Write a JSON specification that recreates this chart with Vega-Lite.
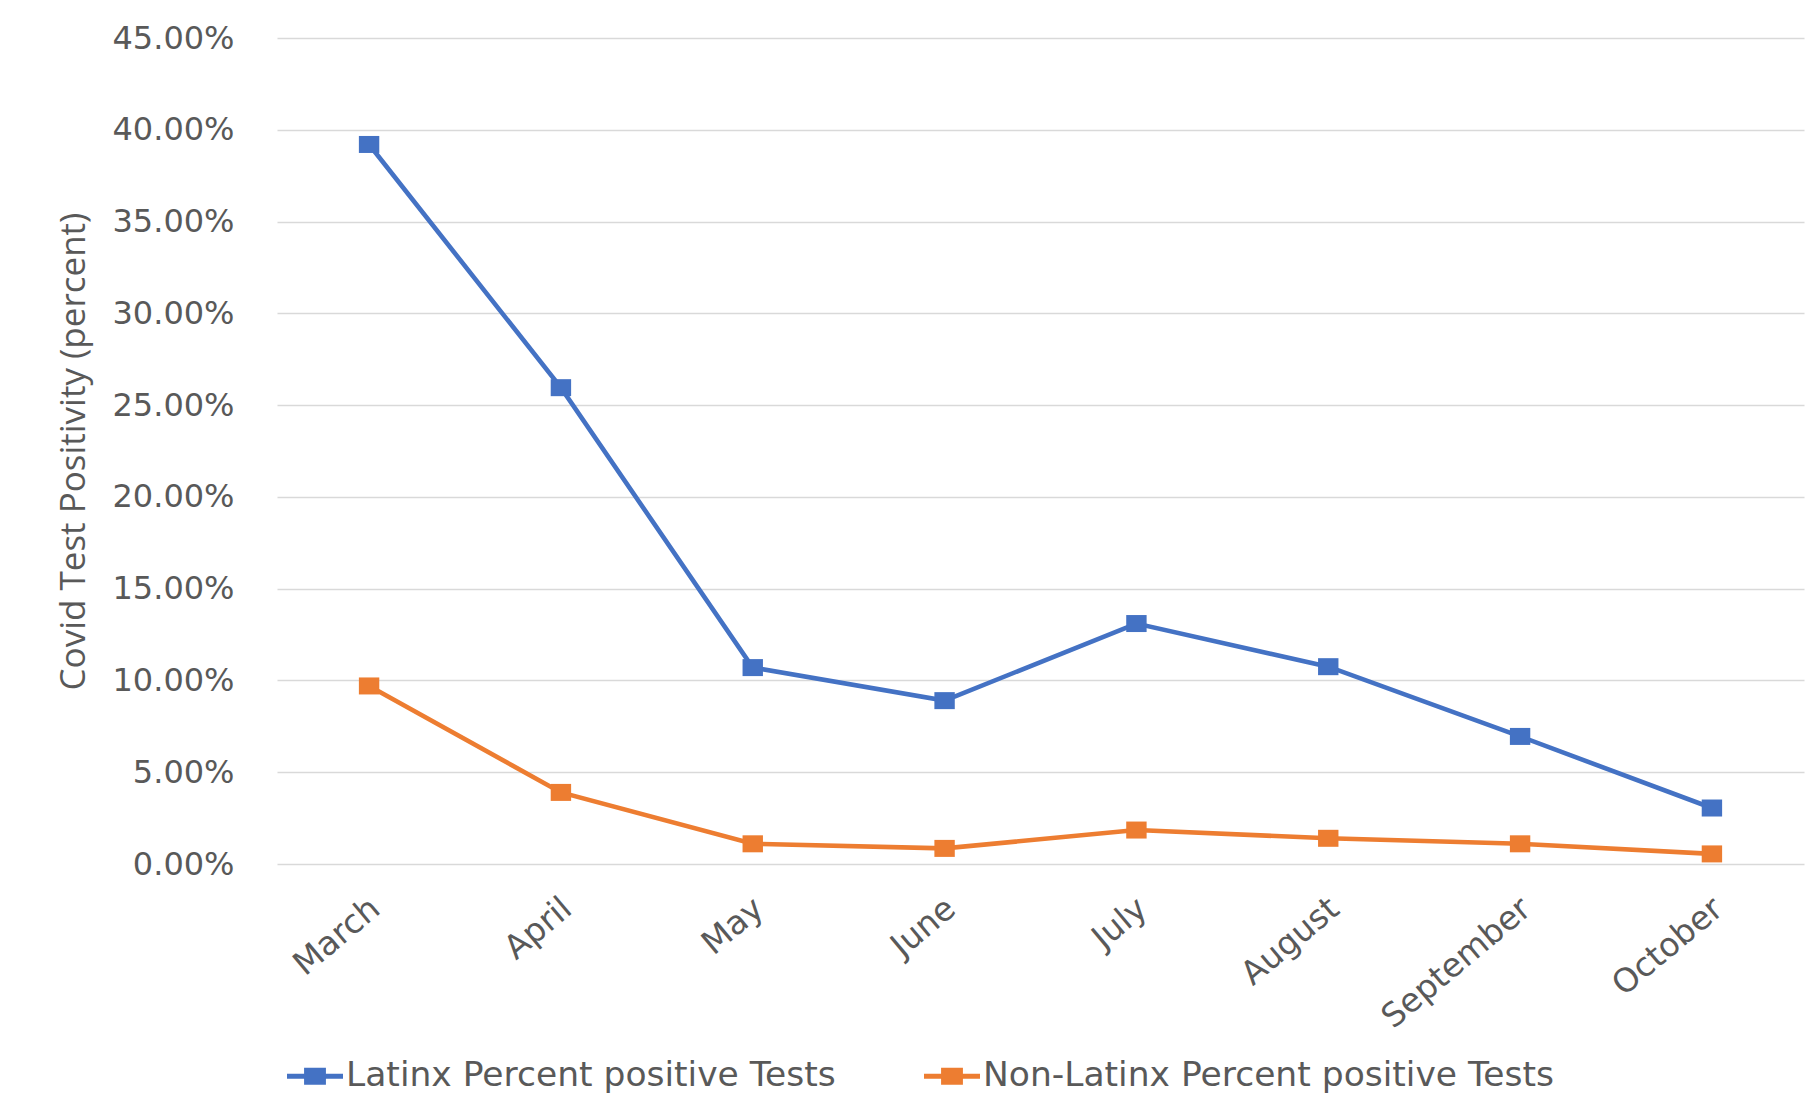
{
  "$schema": "https://vega.github.io/schema/vega-lite/v6.json",
  "width": 1527,
  "height": 826,
  "autosize": {"type": "none"},
  "padding": {"left": 277, "top": 38, "right": 12, "bottom": 248},
  "background": "white",
  "config": {"view": {"stroke": null}, "font": "DejaVu Sans"},
  "data": {
    "values": [
      {"month": "March", "series": "Latinx Percent positive Tests", "value": 39.2},
      {"month": "April", "series": "Latinx Percent positive Tests", "value": 25.95},
      {"month": "May", "series": "Latinx Percent positive Tests", "value": 10.7},
      {"month": "June", "series": "Latinx Percent positive Tests", "value": 8.9},
      {"month": "July", "series": "Latinx Percent positive Tests", "value": 13.1},
      {"month": "August", "series": "Latinx Percent positive Tests", "value": 10.75},
      {"month": "September", "series": "Latinx Percent positive Tests", "value": 6.95},
      {"month": "October", "series": "Latinx Percent positive Tests", "value": 3.05},
      {"month": "March", "series": "Non-Latinx Percent positive Tests", "value": 9.7},
      {"month": "April", "series": "Non-Latinx Percent positive Tests", "value": 3.9},
      {"month": "May", "series": "Non-Latinx Percent positive Tests", "value": 1.1},
      {"month": "June", "series": "Non-Latinx Percent positive Tests", "value": 0.85},
      {"month": "July", "series": "Non-Latinx Percent positive Tests", "value": 1.85},
      {"month": "August", "series": "Non-Latinx Percent positive Tests", "value": 1.4},
      {"month": "September", "series": "Non-Latinx Percent positive Tests", "value": 1.1},
      {"month": "October", "series": "Non-Latinx Percent positive Tests", "value": 0.55}
    ]
  },
  "encoding": {
    "x": {
      "field": "month",
      "type": "ordinal",
      "sort": ["March", "April", "May", "June", "July", "August", "September", "October"],
      "scale": {"type": "point", "padding": 0.48},
      "axis": {
        "title": null,
        "domain": false,
        "ticks": false,
        "grid": false,
        "labelAngle": -40,
        "labelAlign": "right",
        "labelBaseline": "middle",
        "labelPadding": 40,
        "labelOffset": 6,
        "labelFontSize": 33,
        "labelColor": "#595959",
        "labelLimit": 500
      }
    },
    "y": {
      "field": "value",
      "type": "quantitative",
      "scale": {"domain": [0, 45], "nice": false},
      "axis": {
        "values": [0, 5, 10, 15, 20, 25, 30, 35, 40, 45],
        "labelExpr": "format(datum.value, '.2f') + '%'",
        "domain": false,
        "ticks": false,
        "grid": true,
        "gridColor": "#d9d9d9",
        "gridWidth": 1.5,
        "labelFontSize": 32,
        "labelColor": "#595959",
        "labelPadding": 43,
        "title": "Covid Test Positivity (percent)",
        "titleFont": "Open Sans",
        "titleFontSize": 35,
        "titleFontWeight": "normal",
        "titleColor": "#595959",
        "titlePadding": 20
      }
    },
    "color": {
      "field": "series",
      "type": "nominal",
      "scale": {
        "domain": ["Latinx Percent positive Tests", "Non-Latinx Percent positive Tests"],
        "range": ["#4472C4", "#ED7D31"]
      },
      "legend": {
        "orient": "none",
        "legendX": 10,
        "legendY": 1010,
        "direction": "horizontal",
        "title": null,
        "symbolType": "M -1 -0.09 H 1 V 0.09 H -1 Z M -0.39 -0.3 H 0.39 V 0.3 H -0.39 Z",
        "symbolSize": 3136,
        "symbolStrokeWidth": 0,
        "labelFontSize": 34.5,
        "labelColor": "#595959",
        "labelOffset": 3,
        "columnPadding": 88,
        "labelLimit": 1000,
        "encode": {
          "symbols": {
            "update": {
              "fill": {"scale": "color", "field": "value"},
              "stroke": {"value": "transparent"},
              "opacity": {"value": 1}
            }
          }
        }
      }
    }
  },
  "layer": [
    {"mark": {"type": "line", "strokeWidth": 4.6}},
    {
      "mark": {
        "type": "point",
        "shape": "M -1.2 -1 H 1.2 V 1 H -1.2 Z",
        "filled": true,
        "opacity": 1,
        "size": 289
      }
    }
  ]
}
